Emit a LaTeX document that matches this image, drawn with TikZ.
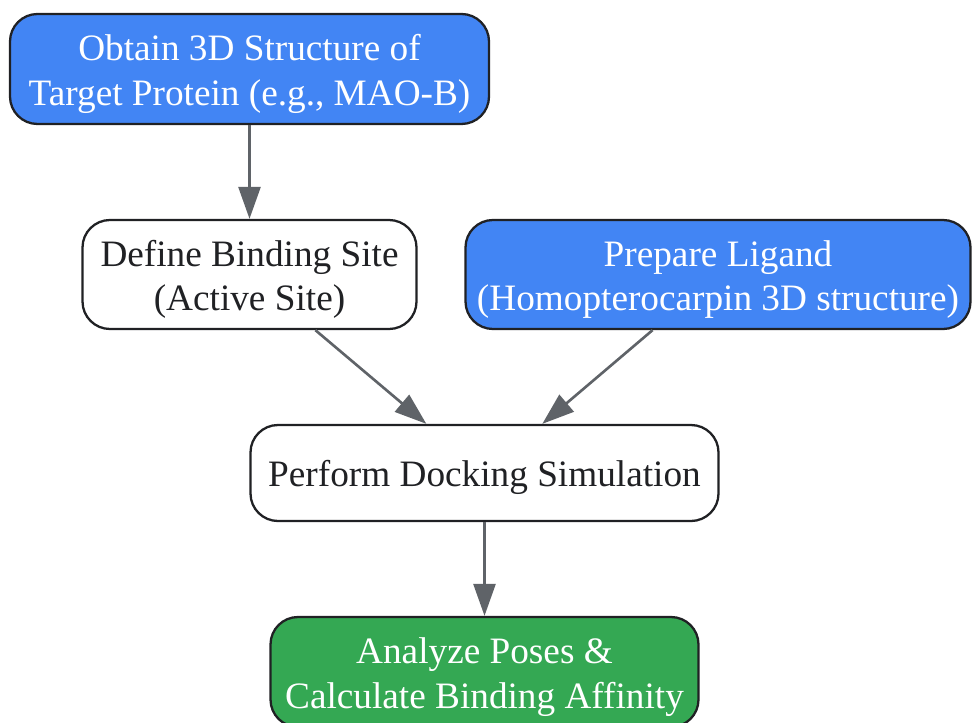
\documentclass[tikz,border=0pt]{standalone}
\usepackage{fontspec}
\setmainfont{Liberation Serif}
\usetikzlibrary{arrows.meta,positioning}
\definecolor{gblue}{HTML}{4285F4}
\definecolor{ggreen}{HTML}{34A853}
\definecolor{edgedark}{HTML}{202124}
\definecolor{arrowgray}{HTML}{5F6368}
\definecolor{textdark}{HTML}{202124}
% invisible strut that lowers the text a little inside its box
\newcommand{\lowr}{\rule{0pt}{7.2mm}}

\begin{document}
\begin{tikzpicture}[node distance=41.1mm,
                    stepbox/.style={rectangle, rounded corners=5.5mm, draw=edgedark, line width=1.3pt,
                                    fill=white, text=textdark, align=center, inner sep=0pt,
                                    font=\fontsize{21.2}{25.2}\selectfont},
                    bluebox/.style={stepbox, fill=gblue, text=white},
                    greenbox/.style={stepbox, fill=ggreen, text=white},
                    flow/.style={-{Triangle[length=6.4mm, width=4.4mm]}, draw=arrowgray, line width=1.5pt}]
  \useasboundingbox (0,0) rectangle (19.44,-14.44);
  \node[bluebox, minimum width=95.8mm, minimum height=22mm] (obtain) at (4.99,-1.38)
       {\lowr Obtain 3D Structure of\\Target Protein (e.g., MAO-B)};
  \node[stepbox, below of=obtain, minimum width=66.8mm, minimum height=21.8mm] (define)
       {\lowr Define Binding Site\\(Active Site)};
  \node[bluebox, right of=define, node distance=93.7mm, minimum width=101mm, minimum height=21.8mm] (ligand)
       {\lowr Prepare Ligand\\(Homopterocarpin 3D structure)};
  \node[stepbox, below of=define, node distance=39.7mm, xshift=47mm, minimum width=93.6mm, minimum height=19.2mm] (dock)
       {\lowr Perform Docking Simulation};
  \node[greenbox, below of=dock, node distance=39.8mm, minimum width=85.6mm, minimum height=22mm] (analyze)
       {\lowr Analyze Poses \&\\Calculate Binding Affinity};
  \draw[flow] (obtain) -- (define);
  \draw[flow] (define) -- (dock);
  \draw[flow] (ligand) -- (dock);
  \draw[flow] (dock) -- (analyze);
\end{tikzpicture}
\end{document}
